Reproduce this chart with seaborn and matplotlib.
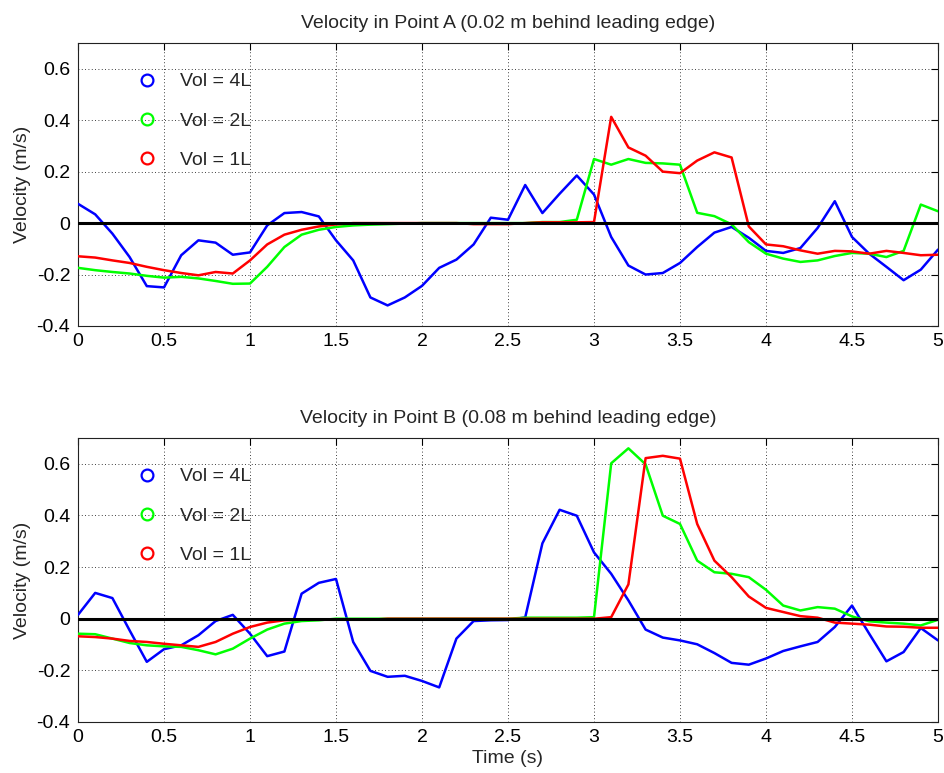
import numpy as np
import pandas as pd
import matplotlib
matplotlib.use("Agg")
import matplotlib.pyplot as plt
from matplotlib.lines import Line2D
from matplotlib.ticker import FuncFormatter
import seaborn as sns

# Sample times (s), one reading every 0.1 s
time_s = np.round(np.arange(0, 5.01, 0.1), 1)

# Point A (0.02 m behind leading edge)
a_vol4 = [0.075, 0.034, -0.041, -0.132, -0.245, -0.250, -0.125, -0.067, -0.076, -0.123,
          -0.114, -0.009, 0.039, 0.043, 0.026, -0.067, -0.145, -0.289, -0.320, -0.289,
          -0.244, -0.174, -0.142, -0.083, 0.021, 0.013, 0.148, 0.039, 0.114, 0.185,
          0.111, -0.054, -0.165, -0.200, -0.194, -0.155, -0.093, -0.037, -0.015, -0.057,
          -0.108, -0.116, -0.097, -0.019, 0.085, -0.054, -0.119, -0.170, -0.222, -0.181,
          -0.103]
a_vol2 = [-0.174, -0.183, -0.190, -0.196, -0.205, -0.212, -0.209, -0.215, -0.225, -0.236,
          -0.235, -0.170, -0.093, -0.045, -0.026, -0.015, -0.009, -0.006, -0.004, -0.002,
          0.0, 0.0, 0.0, 0.0, 0.0, 0.0, 0.0, 0.004, 0.004, 0.013,
          0.249, 0.227, 0.249, 0.234, 0.232, 0.227, 0.040, 0.027, -0.005, -0.074,
          -0.119, -0.138, -0.151, -0.145, -0.128, -0.116, -0.119, -0.132, -0.108, 0.072,
          0.046]
a_vol1 = [-0.129, -0.134, -0.145, -0.155, -0.170, -0.183, -0.194, -0.203, -0.190, -0.196,
          -0.145, -0.083, -0.045, -0.026, -0.013, -0.005, 0.0, 0.0, 0.0, 0.0,
          0.0, 0.0, 0.0, -0.004, -0.004, -0.004, 0.0, 0.003, 0.003, 0.003,
          0.004, 0.413, 0.294, 0.262, 0.200, 0.194, 0.243, 0.275, 0.255, -0.013,
          -0.083, -0.090, -0.106, -0.119, -0.108, -0.110, -0.119, -0.108, -0.116, -0.125,
          -0.123]

# Point B (0.08 m behind leading edge)
b_vol4 = [0.015, 0.100, 0.080, -0.045, -0.167, -0.118, -0.103, -0.064, -0.009, 0.015,
          -0.058, -0.145, -0.127, 0.097, 0.139, 0.154, -0.090, -0.202, -0.225, -0.221,
          -0.241, -0.266, -0.077, -0.009, -0.006, -0.005, 0.005, 0.292, 0.422, 0.399,
          0.257, 0.174, 0.071, -0.042, -0.073, -0.084, -0.099, -0.133, -0.171, -0.178,
          -0.154, -0.125, -0.107, -0.090, -0.032, 0.051, -0.058, -0.165, -0.129, -0.036,
          -0.084]
b_vol2 = [-0.058, -0.060, -0.077, -0.094, -0.103, -0.107, -0.109, -0.122, -0.138, -0.116,
          -0.077, -0.042, -0.019, -0.009, -0.006, 0.0, 0.0, 0.0, 0.0, 0.0,
          0.0, 0.0, 0.0, 0.0, 0.0, 0.0, 0.004, 0.004, 0.004, 0.004,
          0.006, 0.602, 0.660, 0.598, 0.399, 0.367, 0.225, 0.180, 0.174, 0.161,
          0.112, 0.051, 0.032, 0.045, 0.039, 0.009, -0.010, -0.015, -0.019, -0.026,
          -0.004]
b_vol1 = [-0.068, -0.071, -0.077, -0.086, -0.090, -0.097, -0.103, -0.109, -0.090, -0.058,
          -0.032, -0.015, -0.006, -0.003, -0.004, -0.004, -0.004, -0.004, 0.0, 0.0,
          0.0, 0.0, 0.0, 0.0, 0.0, 0.0, 0.0, 0.0, 0.0, 0.0,
          0.0, 0.006, 0.133, 0.622, 0.631, 0.620, 0.367, 0.225, 0.161, 0.086,
          0.042, 0.026, 0.010, 0.004, -0.015, -0.019, -0.023, -0.030, -0.031, -0.035,
          -0.035]

volume_labels = ["Vol = 4L", "Vol = 2L", "Vol = 1L"]
volume_colors = ["#0000ff", "#00ff00", "#ff0000"]
panel_titles = ["Velocity in Point A (0.02 m behind leading edge)",
                "Velocity in Point B (0.08 m behind leading edge)"]
x_ticks = [0, 0.5, 1, 1.5, 2, 2.5, 3, 3.5, 4, 4.5, 5]
y_ticks = [-0.4, -0.2, 0, 0.2, 0.4, 0.6]


def long_frame(series):
    parts = []
    for label, values in zip(volume_labels, series):
        parts.append(pd.DataFrame({"Time": time_s, "Velocity": values, "Volume": label}))
    return pd.concat(parts, ignore_index=True)


sns.set_style("white")
plt.rcParams["font.family"] = ["Liberation Sans", "DejaVu Sans"]
FS = 14

fig = plt.figure(figsize=(9.45, 7.73), dpi=100)
ax_a = fig.add_axes([78 / 945, 1 - 326 / 773, 860 / 945, 283 / 773])
ax_b = fig.add_axes([78 / 945, 1 - 722 / 773, 860 / 945, 284 / 773])

fmt = FuncFormatter(lambda v, _: ("%g" % round(v, 2)).replace("\u2212", "-"))

for ax, series, title in [(ax_a, [a_vol4, a_vol2, a_vol1], panel_titles[0]),
                          (ax_b, [b_vol4, b_vol2, b_vol1], panel_titles[1])]:
    df = long_frame(series)
    sns.lineplot(data=df, x="Time", y="Velocity", hue="Volume",
                 hue_order=volume_labels, palette=volume_colors,
                 linewidth=1.8, legend=False, ax=ax, zorder=3)
    ax.axhline(0, color="black", linewidth=2.2, zorder=4)

    ax.set_xlim(0, 5)
    ax.set_ylim(-0.4, 0.7)
    ax.set_xticks(x_ticks)
    ax.set_yticks(y_ticks)
    ax.xaxis.set_major_formatter(fmt)
    ax.yaxis.set_major_formatter(fmt)
    ax.grid(True, color="black", linestyle=(0, (1, 3)), linewidth=0.6, zorder=0)
    ax.tick_params(direction="in", length=5, width=0.8, top=True, right=True,
                   labelsize=FS, colors="black")
    ax.tick_params(axis="x", pad=5)
    ax.tick_params(axis="y", pad=5.5)
    for sp in ax.spines.values():
        sp.set_color("#222222")
        sp.set_linewidth(0.8)
    ax.set_title(title, fontsize=FS, pad=11)
    ax.set_ylabel("Velocity (m/s)", fontsize=FS, labelpad=4)
    ax.set_xlabel("")

    handles = [Line2D([], [], marker="o", linestyle="none", markerfacecolor="none",
                      markeredgecolor=c, markersize=8.5, markeredgewidth=1.6)
               for c in volume_colors]
    ax.legend(handles, volume_labels, loc="upper left", bbox_to_anchor=(0.069, 0.895),
              frameon=False, fontsize=FS, labelspacing=1.12, handlelength=1.0,
              handletextpad=1.2, borderpad=0, borderaxespad=0)

ax_b.set_xlabel("Time (s)", fontsize=FS, labelpad=3)

fig.savefig("out.png", dpi=100, facecolor="white")
